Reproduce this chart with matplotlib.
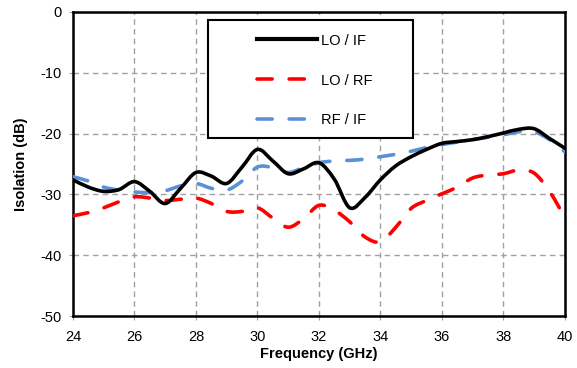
import matplotlib
matplotlib.use('Agg')
import matplotlib.pyplot as plt
from matplotlib.path import Path
from matplotlib.patches import PathPatch, Rectangle
from matplotlib.lines import Line2D

plt.rcParams['font.family'] = ['Liberation Sans', 'DejaVu Sans']
plt.rcParams['axes.unicode_minus'] = False

freq = [24, 24.5, 25, 25.5, 26, 26.5, 27, 27.5, 28, 28.5, 29, 29.5, 30, 30.5, 31, 31.5,
        32, 32.5, 33, 33.5, 34, 34.5, 35, 35.5, 36, 36.5, 37, 37.5, 38, 38.5, 39, 39.5, 40]

lo_if = [-27.6, -28.8, -29.5, -29.2, -27.9, -29.5, -31.5, -29.0, -26.4, -27.0, -28.2, -25.5,
         -22.6, -24.5, -26.6, -25.8, -24.8, -27.5, -32.2, -30.5, -27.6, -25.3, -23.8, -22.6,
         -21.6, -21.3, -21.0, -20.5, -19.9, -19.3, -19.2, -20.8, -22.4]

lo_rf = [-33.5, -33.0, -32.2, -31.2, -30.4, -30.6, -31.0, -30.8, -30.6, -31.5, -32.8, -32.8,
         -32.2, -33.9, -35.4, -34.0, -31.8, -32.6, -34.5, -37.0, -37.8, -35.4, -32.3, -31.0,
         -29.9, -28.8, -27.3, -26.8, -26.6, -26.0, -26.5, -29.5, -33.8]

rf_if = [-27.1, -27.8, -28.8, -29.3, -29.6, -29.7, -29.4, -28.6, -28.2, -29.0, -29.3, -27.8,
         -25.5, -25.6, -26.4, -25.6, -24.8, -24.5, -24.4, -24.2, -23.8, -23.4, -22.9, -22.3,
         -21.8, -21.4, -21.0, -20.6, -20.2, -19.7, -19.7, -21.0, -23.0]

labels = ['LO / IF', 'LO / RF', 'RF / IF']
colors = ['black', '#ff0000', '#5b8fd8']


def smooth_path(x, y):
    # excel-style smoothed line: catmull-rom segments as cubic beziers
    pts = list(zip(x, y))
    n = len(pts)
    verts = [pts[0]]
    codes = [Path.MOVETO]
    for i in range(n - 1):
        p0 = pts[max(i - 1, 0)]
        p1 = pts[i]
        p2 = pts[i + 1]
        p3 = pts[min(i + 2, n - 1)]
        c1 = (p1[0] + (p2[0] - p0[0]) / 6, p1[1] + (p2[1] - p0[1]) / 6)
        c2 = (p2[0] - (p3[0] - p1[0]) / 6, p2[1] - (p3[1] - p1[1]) / 6)
        verts += [c1, c2, p2]
        codes += [Path.CURVE4] * 3
    return Path(verts, codes)


fig = plt.figure(figsize=(5.77, 3.68), dpi=100)
ax = fig.add_axes([0.1265, 0.1413, 0.8525, 0.8261])

dash = (0, (4.2, 4.7))
styles = ['-', dash, dash]
zs = [4, 3, 3]
for series, c, ls, z in zip([lo_if, lo_rf, rf_if], colors, styles, zs):
    ax.add_patch(PathPatch(smooth_path(freq, series), fill=False, edgecolor=c, lw=2.6,
                           linestyle=ls, capstyle='round', joinstyle='round', zorder=z))

ax.set_xlim(24, 40)
ax.set_ylim(-50, 0)
ax.set_xticks(range(24, 41, 2))
ax.set_yticks(range(-50, 1, 10))
ax.grid(True, color='#a0a0a0', linestyle=(0, (4, 3)), lw=1.0)
ax.tick_params(length=3, color='#a0a0a0', labelsize=10.5, pad=5)
ax.tick_params(axis='x', pad=7)
for s in ax.spines.values():
    s.set_linewidth(1.8)
    s.set_color('black')

ax.set_xlabel('Frequency (GHz)', fontsize=10.5, fontweight='bold', labelpad=2)
ax.set_ylabel('Isolation (dB)', fontsize=10.5, fontweight='bold', labelpad=9)

# legend box
ax.add_patch(Rectangle((0.274, 0.586), 0.417, 0.388, transform=ax.transAxes,
                       facecolor='white', edgecolor='black', lw=1.5, zorder=5))
handles = [Line2D([], [], color=c, lw=2.6, linestyle=ls, dash_capstyle='round')
           for c, ls in zip(colors, styles)]
handles[0].set_linewidth(3.0)
leg = ax.legend(handles, labels, loc='upper left', bbox_to_anchor=(0.374, 0.929),
                fontsize=10.5, frameon=False, handlelength=4.1, handletextpad=0.3,
                labelspacing=1.78, borderpad=0, borderaxespad=0)
leg.set_zorder(6)

fig.savefig('out.png', dpi=100)
